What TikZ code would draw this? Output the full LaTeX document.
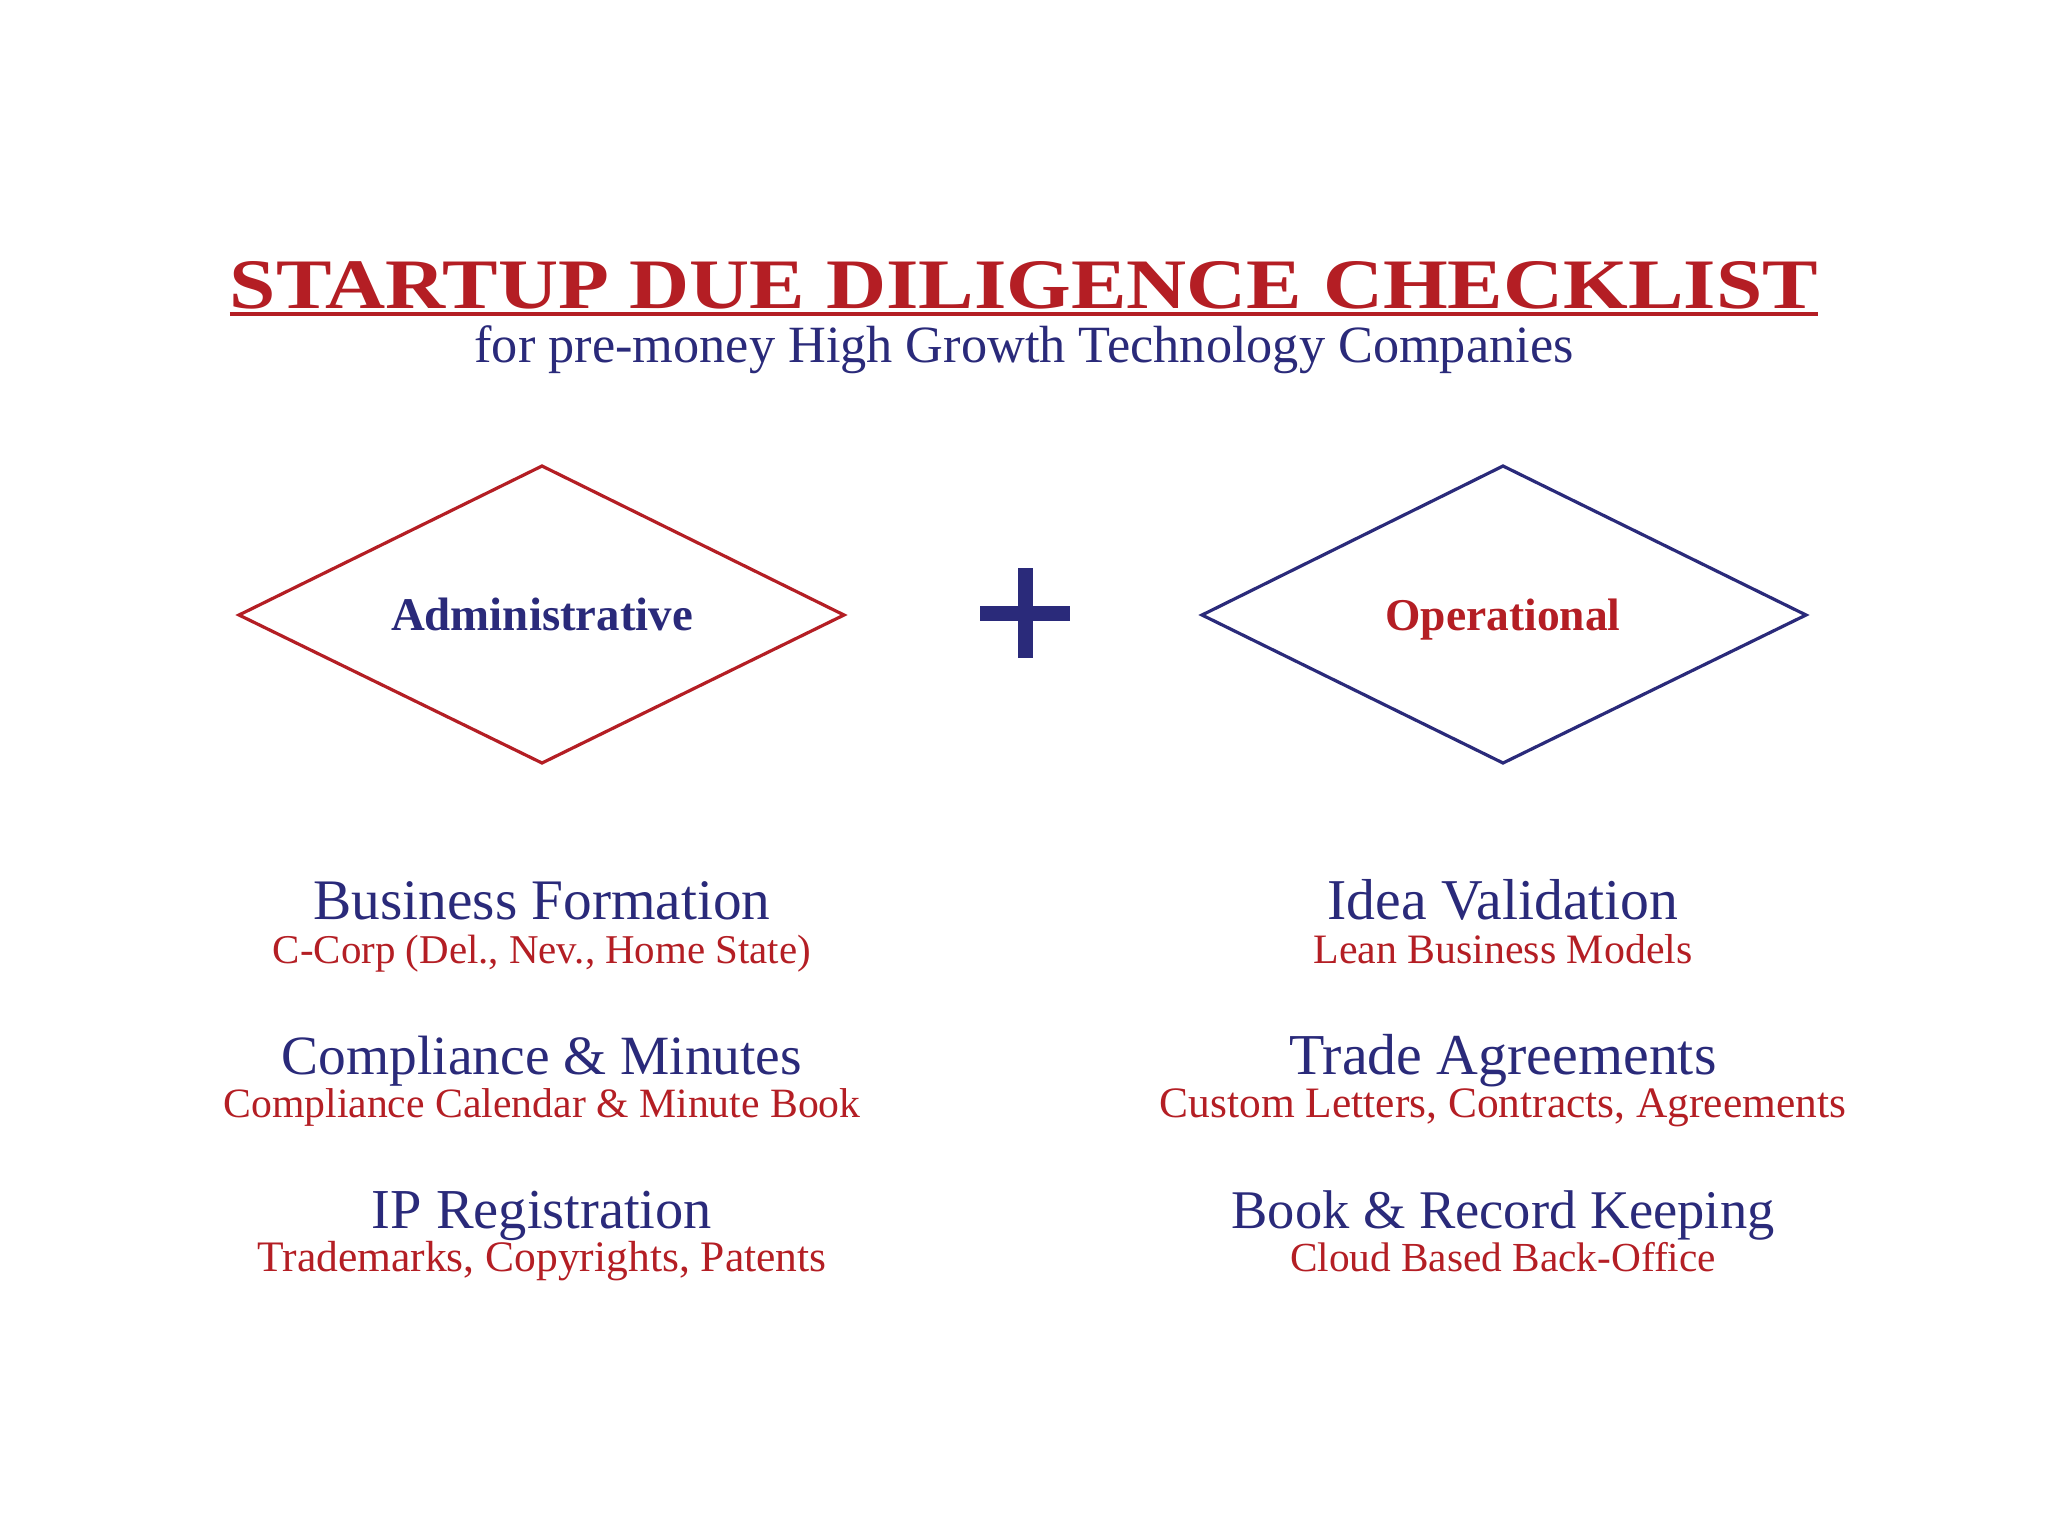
\documentclass[tikz,border=0pt]{standalone}
\usepackage{fontspec}
\setmainfont{Liberation Serif}
\usepackage{graphicx}
\definecolor{cred}{RGB}{180,30,36}
\definecolor{cnavy}{RGB}{42,42,122}
\newcommand{\fitw}[2]{\resizebox{#1}{!}{#2}}
\begin{document}
\begin{tikzpicture}[x=0.5pt,y=-0.5pt,
  txt/.style={inner sep=0pt,outer sep=0pt,anchor=base},
  head/.style={txt,text=cnavy},
  sub/.style={txt,text=cred},
  dia/.style={line width=1.6pt,line join=miter}]
\useasboundingbox (0,0) rectangle (2048,1536);
\fill[white] (0,0) rectangle (2048,1536);

% title
\node[txt,text=cred] (title) at (1024,308) {\resizebox{794pt}{23.5pt}{\bfseries STARTUP DUE DILIGENCE CHECKLIST}};
\draw[cred,line width=2pt] ([yshift=-3pt]title.base west) -- ([yshift=-3pt]title.base east);
\node[head] (subtitle) at (1024,362) {\fitw{549.5pt}{for pre-money High Growth Technology Companies}};

% diamonds
\coordinate (al) at (239,615); \coordinate (at) at (542,466);
\coordinate (ar) at (844,615); \coordinate (ab) at (542,763);
\draw[dia,cred] (al) -- (at) -- (ar) -- (ab) -- cycle;
\node[head] (admin) at (542,630) {\fitw{151pt}{\bfseries Administrative}};

\coordinate (ol) at (1202,615); \coordinate (ot) at (1503,466);
\coordinate (or) at (1806,615); \coordinate (ob) at (1503,763);
\draw[dia,cnavy] (ol) -- (ot) -- (or) -- (ob) -- cycle;
\node[sub] (oper) at (1503,630) {\fitw{117.5pt}{\bfseries Operational}};

% plus
\fill[cnavy] (980,606) rectangle (1070,621);
\fill[cnavy] (1018,568) rectangle (1033,658);

% left column
\node[head] (h1) at (542,919) {\fitw{228.5pt}{Business Formation}};
\node[sub]  (s1) at (542,963) {\fitw{269pt}{C-Corp (Del., Nev., Home State)}};
\node[head] (h2) at (542,1074) {\fitw{260pt}{Compliance \& Minutes}};
\node[sub]  (s2) at (542,1117) {\fitw{318.5pt}{Compliance Calendar \& Minute Book}};
\node[head] (h3) at (542,1228) {\fitw{170pt}{IP Registration}};
\node[sub]  (s3) at (542,1271) {\fitw{284.5pt}{Trademarks, Copyrights, Patents}};

% right column
\node[head] (h4) at (1503,919) {\fitw{175.5pt}{Idea Validation}};
\node[sub]  (s4) at (1503,963) {\fitw{189.5pt}{Lean Business Models}};
\node[head] (h5) at (1503,1074) {\fitw{213.5pt}{Trade Agreements}};
\node[sub]  (s5) at (1503,1117) {\fitw{343pt}{Custom Letters, Contracts, Agreements}};
\node[head] (h6) at (1503,1228) {\fitw{271.5pt}{Book \& Record Keeping}};
\node[sub]  (s6) at (1503,1271) {\fitw{213pt}{Cloud Based Back-Office}};
\end{tikzpicture}
\end{document}
